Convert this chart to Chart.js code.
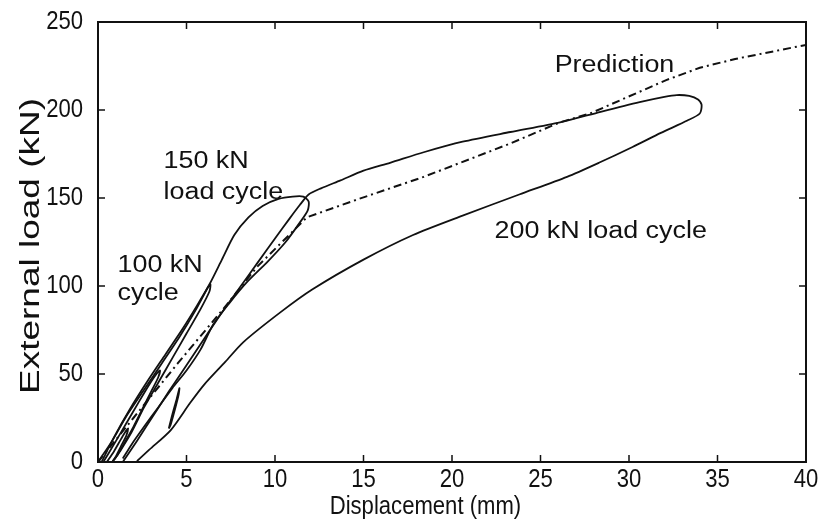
<!DOCTYPE html>
<html>
<head>
<meta charset="utf-8">
<title>External load vs displacement</title>
<script src="https://cdn.jsdelivr.net/npm/chart.js@4.4.1/dist/chart.umd.min.js"></script>
<style>
  html, body { margin: 0; padding: 0; background: #fff; }
  #wrap { width: 826px; height: 524px; }
</style>
</head>
<body>
<div id="wrap"><canvas id="myChart" width="826" height="524"></canvas></div>
<script>
// axis ticks
const xTicks = [0, 5, 10, 15, 20, 25, 30, 35, 40];
const yTicks = [0, 50, 100, 150, 200, 250];
const xTitle = 'Displacement (mm)';
const yTitle = 'External load (kN)';

// prediction (dash-dot)
const predX = [0, 2, 4.5, 7, 9, 11.8, 14.6, 18.4, 23.3, 26.1, 27.8, 32.1, 34, 36, 40];
const predY = [0, 25, 56, 86, 111, 139, 149, 162, 181, 193, 198, 217, 224, 229, 237];

// small early cycles near the origin
const loop25X = [0.5, 0.9, 1.3, 1.6, 1.7, 1.6, 1.3, 1.0, 0.8];
const loop25Y = [0, 6, 13, 18, 19, 15, 9, 3, 0];
const loop50X = [0.3, 0.9, 1.6, 2.3, 2.9, 3.3, 3.5, 3.4, 3.0, 2.5, 2.0, 1.5, 1.1, 0.8];
const loop50Y = [0, 10, 22, 34, 44, 50, 52, 48, 40, 30, 20, 11, 4, 0];

// 100 kN cycle
const loop100X = [0, 0.8, 1.6, 2.6, 3.6, 4.6, 5.5, 6.2, 6.35, 6.3, 5.8, 5.0, 4.2, 3.4, 2.6, 1.9, 1.3, 0.9];
const loop100Y = [0, 12, 26, 41, 56, 71, 86, 99, 101, 97, 87, 73, 59, 45, 31, 17, 7, 1];

// 150 kN load cycle
const loop150X = [0.2, 0.9, 1.8, 2.8, 3.8, 4.8, 5.6, 6.3, 7.0, 7.7, 8.5, 9.3, 10.2, 11.0, 11.6, 11.9, 11.85,
  11.4, 10.6, 9.6, 8.4, 7.4, 6.5, 5.8, 5.0, 4.2, 3.4, 2.6, 1.9, 1.4];
const loop150Y = [0, 14, 30, 46, 61, 76, 89, 101, 115, 129, 139, 145.5, 149.5, 150.8, 150.8, 148, 143,
  136, 125, 114, 102, 90, 78, 64, 52, 42, 31, 20, 10, 2];

// 200 kN load cycle
const loop200X = [1.4, 2.2, 3.1, 4.0, 5.0, 6.0, 7.0, 8.0, 9.0, 10.0, 10.8, 11.4, 11.9, 12.6, 13.7, 15, 16.5,
  18.4, 20.6, 23.3, 26.1, 28.4, 30.6, 32.0, 32.7, 33.4, 33.9, 34.1, 34.0, 33.3, 31.8, 30.2, 28.3, 26.5,
  23.8, 20.6, 17.8, 15.0, 12.1, 10.3, 8.2, 7.2, 6.0, 5.2, 4.1, 2.9, 2.2];
const loop200Y = [0, 12, 26, 40, 55, 70, 85, 99, 113, 127, 138, 146, 152, 155.5, 160, 165.5, 170,
  176, 182, 187.5, 193, 199, 204.5, 207.5, 208.5, 208, 206, 203, 198, 194, 187, 179, 170, 162,
  152, 140, 129, 115, 98, 85, 68, 57, 44, 33.5, 18, 7, 0.5];

// small reload after the 200 kN unloading
const smallX = [4.0, 4.2, 4.45, 4.6, 4.55, 4.35, 4.1, 4.0];
const smallY = [19, 27, 36, 42, 38, 30, 21, 19];

// text labels inside the plot (left x, baseline y in data units)
const notes = [
  { text: 'Prediction', x: 25.8, y: 221.5 },
  { text: '150 kN', x: 3.7, y: 167 },
  { text: 'load cycle', x: 3.7, y: 149.5 },
  { text: '100 kN', x: 1.1, y: 108 },
  { text: 'cycle', x: 1.1, y: 92 },
  { text: '200 kN load cycle', x: 22.4, y: 127 }
];

const pts = (xs, ys) => xs.map((x, i) => ({ x: x, y: ys[i] }));

const curve = (label, xs, ys) => ({
  label: label,
  data: pts(xs, ys),
  showLine: true,
  borderColor: '#111',
  borderWidth: 1.8,
  pointRadius: 0,
  tension: 0.25,
  fill: false
});

const sans = "'Liberation Sans', Arial, sans-serif";

// text drawn with a horizontal stretch (the scanned figure is not square)
function stretchText(ctx, text, x, y, sx, rot) {
  ctx.save();
  ctx.translate(x, y);
  if (rot) ctx.rotate(rot);
  ctx.scale(sx, 1);
  ctx.fillText(text, 0, 0);
  ctx.restore();
}

// frame, inward tick marks, tick labels, titles and notes
const decor = {
  id: 'decor',
  afterDatasetsDraw(chart) {
    const { ctx, chartArea: a, scales } = chart;
    ctx.save();
    ctx.strokeStyle = '#111';
    ctx.lineWidth = 2;
    ctx.strokeRect(a.left, a.top, a.right - a.left, a.bottom - a.top);
    ctx.lineWidth = 1.5;
    ctx.beginPath();
    xTicks.slice(1, -1).forEach(v => {
      const px = scales.x.getPixelForValue(v);
      ctx.moveTo(px, a.bottom); ctx.lineTo(px, a.bottom - 7);
      ctx.moveTo(px, a.top); ctx.lineTo(px, a.top + 7);
    });
    yTicks.slice(1, -1).forEach(v => {
      const py = scales.y.getPixelForValue(v);
      ctx.moveTo(a.left, py); ctx.lineTo(a.left + 7, py);
      ctx.moveTo(a.right, py); ctx.lineTo(a.right - 7, py);
    });
    ctx.stroke();

    ctx.fillStyle = '#111';

    // tick labels (narrow face)
    ctx.font = '26px ' + sans;
    ctx.textAlign = 'center';
    ctx.textBaseline = 'top';
    xTicks.forEach(v => {
      stretchText(ctx, String(v), scales.x.getPixelForValue(v), a.bottom + 5, 0.85);
    });
    ctx.textAlign = 'right';
    ctx.textBaseline = 'middle';
    yTicks.forEach(v => {
      stretchText(ctx, String(v), a.left - 15, scales.y.getPixelForValue(v), 0.85);
    });

    // axis titles
    ctx.textAlign = 'center';
    ctx.textBaseline = 'alphabetic';
    ctx.font = '26px ' + sans;
    stretchText(ctx, xTitle, scales.x.getPixelForValue(18.5), a.bottom + 52, 0.85);
    ctx.font = '27px ' + sans;
    stretchText(ctx, yTitle, 39, (a.top + a.bottom) / 2 + 4, 1.37, -Math.PI / 2);

    // notes
    ctx.font = '23px ' + sans;
    ctx.textAlign = 'left';
    notes.forEach(n => {
      stretchText(ctx, n.text, scales.x.getPixelForValue(n.x), scales.y.getPixelForValue(n.y), 1.17);
    });
    ctx.restore();
  }
};

const ctx = document.getElementById('myChart');

new Chart(ctx, {
  type: 'scatter',
  data: {
    datasets: [
      curve('25 kN', loop25X, loop25Y),
      curve('50 kN', loop50X, loop50Y),
      curve('100 kN cycle', loop100X, loop100Y),
      curve('150 kN load cycle', loop150X, loop150Y),
      curve('200 kN load cycle', loop200X, loop200Y),
      curve('reload', smallX, smallY),
      Object.assign(curve('Prediction', predX, predY), { borderDash: [8, 4, 2, 4], borderWidth: 2, tension: 0 })
    ]
  },
  options: {
    responsive: false,
    animation: false,
    layout: { padding: { top: 22, right: 20, bottom: 0, left: 0 } },
    plugins: {
      legend: { display: false },
      tooltip: { enabled: false }
    },
    scales: {
      x: {
        type: 'linear',
        min: 0,
        max: 40,
        afterFit(scale) { scale.height = 62; },
        afterBuildTicks(scale) { scale.ticks = xTicks.map(v => ({ value: v })); },
        grid: { display: false, drawTicks: false },
        border: { display: false },
        ticks: { display: false }
      },
      y: {
        type: 'linear',
        min: 0,
        max: 250,
        afterFit(scale) { scale.width = 98; },
        afterBuildTicks(scale) { scale.ticks = yTicks.map(v => ({ value: v })); },
        grid: { display: false, drawTicks: false },
        border: { display: false },
        ticks: { display: false }
      }
    }
  },
  plugins: [decor]
});
</script>
</body>
</html>
